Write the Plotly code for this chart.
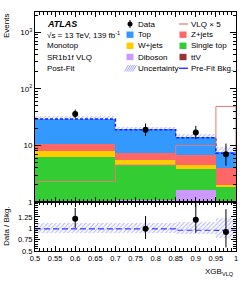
import plotly.graph_objects as go
from plotly.subplots import make_subplots

# ---------------- data ----------------
bin_edges = [0.5, 0.7, 0.85, 0.95, 1.0]
bin_centers = [0.6, 0.775, 0.9, 0.975]
bin_widths = [0.2, 0.15, 0.1, 0.05]

ttv = [0.15, 0.15, 0.10, 0.10]
diboson = [0.90, 0.93, 1.50, 0.60]
single_top = [5.19, 3.42, 2.20, 1.15]
wjets = [1.72, 1.00, 0.70, 0.15]
zjets = [2.44, 1.80, 2.30, 1.95]
top = [19.3, 11.9, 7.5, 3.65]

data = [36, 19, 17, 7]
data_err_up = [7.0, 5.4, 5.2, 3.8]
data_err_dn = [6.0, 4.3, 4.1, 2.6]

vlq_x5 = [2.3, 4.5, 10.0, 49.0]
prefit = [29.3, 19.0, 13.7, 7.25]
rel_unc = [0.11, 0.11, 0.13, 0.22]

xticks = [0.5, 0.55, 0.6, 0.65, 0.7, 0.75, 0.8, 0.85, 0.9, 0.95, 1.0]
xticklabels = ["0.5", "0.55", "0.6", "0.65", "0.7", "0.75", "0.8", "0.85", "0.9", "0.95", "1"]
yticks_main = [1, 10, 100, 1000]
yticklabels_main = ["1", "10", "10<sup>2</sup>", "10<sup>3</sup>"]
yticks_ratio = [0.5, 0.75, 1.0, 1.25]
yticklabels_ratio = ["0.5", "0.75", "1", "1.25"]

samples = [
    ("ttV", ttv, "#993333"),
    ("Diboson", diboson, "#cc99ff"),
    ("Single top", single_top, "#33cc33"),
    ("W+jets", wjets, "#ffcc00"),
    ("Z+jets", zjets, "#ff6666"),
    ("Top", top, "#3399ff"),
]

# ---------------- figure ----------------
W, H = 249, 281
L, R, T, B = 35, 13, 12, 30
FONT = "Liberation Sans"

fig = make_subplots(rows=2, cols=1, shared_xaxes=True, vertical_spacing=0,
                    row_heights=[0.795, 0.205])

total = [sum(s[1][i] for s in samples) for i in range(4)]

# uncertainty band (main)
fig.add_trace(go.Bar(
    x=bin_centers, width=bin_widths,
    base=[t * (1 - u) for t, u in zip(total, rel_unc)],
    y=[2 * t * u for t, u in zip(total, rel_unc)],
    marker=dict(color="rgba(0,0,0,0)", line=dict(width=0),
                pattern=dict(shape="/", fgcolor="#7070ff", bgcolor="rgba(255,255,255,0)",
                             size=3, solidity=0.35)),
    showlegend=False, hoverinfo="skip"), row=1, col=1)

# stacked backgrounds
cum = [0.001] * 4
for name, vals, col in samples:
    fig.add_trace(go.Bar(
        x=bin_centers, width=bin_widths, base=list(cum), y=vals,
        marker=dict(color=col, line=dict(width=0)),
        name=name, showlegend=False), row=1, col=1)
    cum = [c + v for c, v in zip(cum, vals)]

# pre-fit line (main)
fig.add_trace(go.Scatter(
    x=bin_edges, y=prefit + [prefit[-1]], mode="lines", line_shape="hv",
    line=dict(color="#1f1fff", width=1.5, dash="3px,2px"),
    showlegend=False), row=1, col=1)

# VLQ x5 outline
fig.add_trace(go.Scatter(
    x=[bin_edges[0]] + bin_edges + [bin_edges[-1]],
    y=[0.01] + vlq_x5 + [vlq_x5[-1], 0.01], mode="lines", line_shape="hv",
    line=dict(color="#e07a7a", width=1), showlegend=False), row=1, col=1)

# data (main)
fig.add_trace(go.Scatter(
    x=bin_centers, y=data, mode="markers",
    marker=dict(color="black", size=6),
    error_y=dict(type="data", symmetric=False, array=data_err_up, arrayminus=data_err_dn,
                 color="black", thickness=1, width=0),
    showlegend=False), row=1, col=1)

# ---------------- ratio panel ----------------
fig.add_trace(go.Bar(
    x=bin_centers, width=bin_widths,
    base=[1 - u for u in rel_unc], y=[2 * u for u in rel_unc],
    marker=dict(color="rgba(0,0,0,0)", line=dict(width=0),
                pattern=dict(shape="/", fgcolor="#7070ff", bgcolor="rgba(255,255,255,0)",
                             size=3, solidity=0.35)),
    showlegend=False, hoverinfo="skip"), row=2, col=1)

prefit_ratio = [p / t for p, t in zip(prefit, total)]
fig.add_trace(go.Scatter(
    x=bin_edges, y=prefit_ratio + [prefit_ratio[-1]], mode="lines", line_shape="hv",
    line=dict(color="#3a3aff", width=1.2, dash="6px,3px"),
    showlegend=False), row=2, col=1)

ratio = [d / t for d, t in zip(data, total)]
fig.add_trace(go.Scatter(
    x=bin_centers, y=ratio, mode="markers",
    marker=dict(color="black", size=6),
    error_y=dict(type="data", symmetric=False,
                 array=[e / t for e, t in zip(data_err_up, total)],
                 arrayminus=[e / t for e, t in zip(data_err_dn, total)],
                 color="black", thickness=1, width=0),
    showlegend=False), row=2, col=1)

# ---------------- axes ----------------
axcommon = dict(showline=True, linecolor="black", linewidth=1, mirror="allticks",
                ticks="inside", tickcolor="black", showgrid=False, zeroline=False)

fig.update_xaxes(range=[0.5, 1.0], tickvals=xticks, ticktext=xticklabels, ticklen=5,
                 minor=dict(dtick=0.01, ticks="inside", ticklen=3, tickcolor="black"),
                 tickfont=dict(size=7.5, family=FONT, color="black"), **axcommon)
fig.update_xaxes(showticklabels=False, row=1, col=1)

fig.update_yaxes(type="log", range=[0, 3.36], tickvals=yticks_main, ticktext=yticklabels_main,
                 ticklen=6, minor=dict(dtick="D1", ticks="inside", ticklen=3, tickcolor="black"),
                 tickfont=dict(size=8, family=FONT, color="black"), row=1, col=1, **axcommon)
fig.update_yaxes(range=[0.5, 1.58], tickvals=yticks_ratio, ticktext=yticklabels_ratio,
                 ticklen=5, minor=dict(dtick=0.05, ticks="inside", ticklen=3, tickcolor="black"),
                 tickfont=dict(size=7.5, family=FONT, color="black"), row=2, col=1, **axcommon)

fig.update_layout(
    width=W, height=H, margin=dict(l=L, r=R, t=T, b=B),
    barmode="overlay", bargap=0, paper_bgcolor="white", plot_bgcolor="white",
    font=dict(family=FONT, color="black"), showlegend=False,
)

# ---------------- text & manual legend ----------------
PW, PH = W - L - R, H - T - B


def px(x):
    return (x - L) / PW


def py(y):
    return 1 - (y - T) / PH


ann = []


def text(x, y, s, size=8, anchor="left", **kw):
    ann.append(dict(x=px(x), y=py(y), xref="paper", yref="paper", text=s, showarrow=False,
                    xanchor=anchor, yanchor="middle", font=dict(size=size, family=FONT, color="black"), **kw))


rows = [24, 34.7, 45.8, 57.0, 68.3]
text(45, rows[0], "<b><i>ATLAS</i></b>", size=9)
text(45, rows[1], "√s = 13 TeV, 139 fb<sup>-1</sup>", size=8)
text(45, rows[2], "Monotop", size=8)
text(45, rows[3], "SR1b1f VLQ", size=8)
text(45, rows[4], "Post-Fit", size=8)

leg1 = [("Data", None), ("Top", "#3399ff"), ("W+jets", "#ffcc00"), ("Diboson", "#cc99ff"), ("Uncertainty", None)]
leg2 = [("VLQ × 5", None), ("Z+jets", "#ff6666"), ("Single top", "#33cc33"), ("ttV", "#993333"), ("Pre-Fit Bkg.", None)]

shapes = []
for i, (lab, col) in enumerate(leg1):
    text(136, rows[i], lab, size=8)
    if col:
        shapes.append(dict(type="rect", xref="paper", yref="paper",
                           x0=px(126.5), x1=px(133.5), y0=py(rows[i] - 3.2), y1=py(rows[i] + 3.2),
                           fillcolor=col, line=dict(width=0)))
for i, (lab, col) in enumerate(leg2):
    text(189, rows[i], lab, size=8)
    if col:
        shapes.append(dict(type="rect", xref="paper", yref="paper",
                           x0=px(179.5), x1=px(186.5), y0=py(rows[i] - 3.2), y1=py(rows[i] + 3.2),
                           fillcolor=col, line=dict(width=0)))

# data legend symbol
shapes.append(dict(type="line", xref="paper", yref="paper", x0=px(130), x1=px(130),
                   y0=py(rows[0] - 4), y1=py(rows[0] + 4), line=dict(color="black", width=1)))
shapes.append(dict(type="circle", xref="paper", yref="paper", x0=px(127.5), x1=px(132.5),
                   y0=py(rows[0] - 2.5), y1=py(rows[0] + 2.5), fillcolor="black", line=dict(width=0)))
# uncertainty hatch symbol
for k in range(5):
    xa = 126.5 + k * 2.0
    shapes.append(dict(type="line", xref="paper", yref="paper",
                       x0=px(xa - 2), x1=px(xa + 2), y0=py(rows[4] + 3.2), y1=py(rows[4] - 3.2),
                       line=dict(color="#8080ff", width=0.7)))
# VLQ symbol
shapes.append(dict(type="line", xref="paper", yref="paper", x0=px(179), x1=px(188),
                   y0=py(rows[0]), y1=py(rows[0]), line=dict(color="#e07a7a", width=1.2)))
# pre-fit symbol
shapes.append(dict(type="line", xref="paper", yref="paper", x0=px(179), x1=px(188),
                   y0=py(rows[4]), y1=py(rows[4]), line=dict(color="#3a3aff", width=1.5)))

# axis titles
ann.append(dict(x=px(6), y=py(12), xref="paper", yref="paper", text="Events", showarrow=False,
                textangle=-90, xanchor="center", yanchor="top", font=dict(size=8, family=FONT, color="black")))
ann.append(dict(x=px(6), y=py(226), xref="paper", yref="paper", text="Data / Bkg.", showarrow=False,
                textangle=-90, xanchor="center", yanchor="middle", font=dict(size=8, family=FONT, color="black")))
ann.append(dict(x=px(236), y=py(272), xref="paper", yref="paper", text="XGB<sub>VLQ</sub>", showarrow=False,
                xanchor="right", yanchor="middle", font=dict(size=8, family=FONT, color="black")))

fig.update_layout(annotations=ann, shapes=shapes)

fig.write_html("out.html", config={"displayModeBar": False},
               post_script="document.body.style.margin='0';document.body.style.padding='0';")
